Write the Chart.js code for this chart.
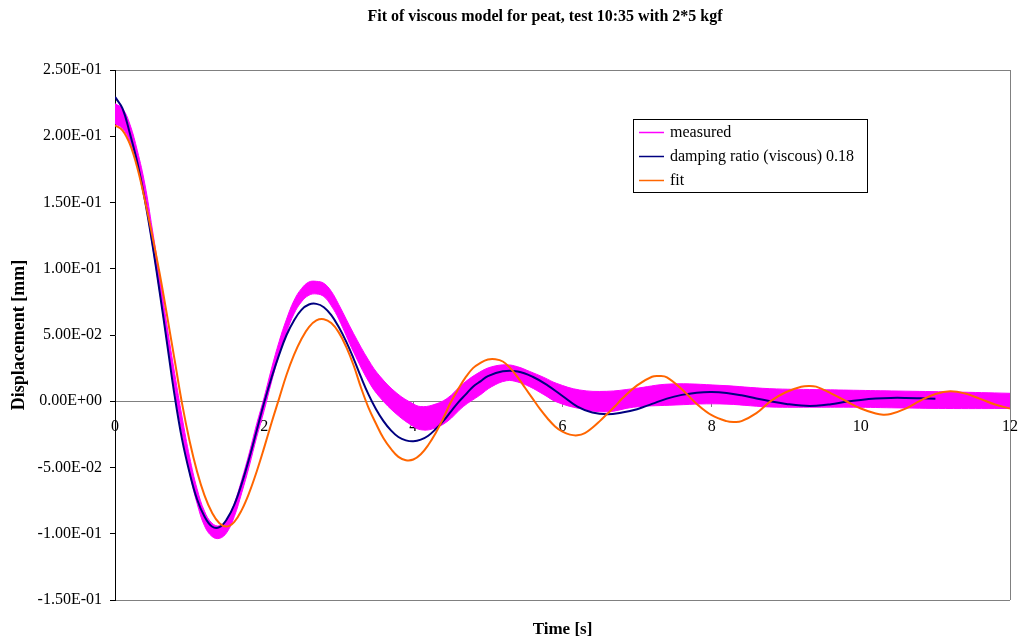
<!DOCTYPE html>
<html>
<head>
<meta charset="utf-8">
<title>Fit of viscous model for peat</title>
<script src="https://cdn.jsdelivr.net/npm/chart.js@4.4.1/dist/chart.umd.min.js"></script>
<style>
  html, body { margin: 0; padding: 0; background: #fff; }
  #chart { display: block; }
</style>
</head>
<body>
<canvas id="chart" width="1018" height="638"></canvas>
<script>
// measured signal is a noisy band: upper and lower edge [mm]
const measuredTime = [0, 0.1, 0.2, 0.3, 0.4, 0.5, 0.6, 0.7, 0.8, 0.9,
    1.0, 1.1, 1.2, 1.3, 1.4, 1.5, 1.6, 1.7, 1.8, 1.9,
    2.0, 2.1, 2.2, 2.3, 2.4, 2.5, 2.6, 2.7, 2.8, 2.9,
    3.0, 3.2, 3.4, 3.55, 3.78, 4.0, 4.1, 4.25, 4.45, 4.67, 4.89, 5.05, 5.25, 5.4, 5.56, 5.75, 5.92,
    6.23, 6.59, 6.95, 7.44, 8.11, 8.78, 9.4, 9.9, 10.5, 11.24, 12];
const measuredUpper = [0.2245, 0.221, 0.209, 0.189, 0.164, 0.130, 0.094, 0.056, 0.021, -0.012,
    -0.042, -0.066, -0.083, -0.092, -0.094, -0.089, -0.077, -0.059, -0.039, -0.017,
    0.003, 0.025, 0.045, 0.062, 0.076, 0.085, 0.090, 0.0905, 0.089, 0.083,
    0.073, 0.051, 0.031, 0.019, 0.006, -0.002, -0.004, -0.003, 0.002, 0.0134, 0.022, 0.026, 0.0275, 0.026, 0.0225, 0.018, 0.0135,
    0.0085, 0.0075, 0.0095, 0.013, 0.012, 0.0095, 0.0088, 0.0083, 0.0077, 0.007, 0.006];
const measuredLower = [0.2095, 0.206, 0.196, 0.177, 0.152, 0.118, 0.082, 0.044, 0.009, -0.024,
    -0.054, -0.077, -0.094, -0.102, -0.1035, -0.099, -0.087, -0.069, -0.049, -0.027,
    -0.007, 0.015, 0.035, 0.052, 0.066, 0.075, 0.080, 0.081, 0.079, 0.072,
    0.062, 0.037, 0.015, 0.003, -0.010, -0.019, -0.0215, -0.021, -0.0155, -0.004, 0.0045, 0.011, 0.0155, 0.0145, 0.011, 0.005, -0.0005,
    -0.0055, -0.008, -0.0045, -0.003, -0.002, -0.0043, -0.0045, -0.0045, -0.005, -0.0055, -0.0055];

// viscous model, damping ratio 0.18
const viscousTime = [0, 0.1, 0.2, 0.3, 0.4, 0.5, 0.6, 0.7, 0.8, 0.9,
    1.0, 1.1, 1.2, 1.3, 1.4, 1.5, 1.6, 1.7, 1.8, 1.9,
    2.0, 2.1, 2.2, 2.3, 2.4, 2.5, 2.6, 2.7, 2.8, 2.9,
    3.0, 3.1, 3.2, 3.3, 3.4, 3.5, 3.6, 3.7, 3.8, 3.9,
    4.0, 4.1, 4.2, 4.3, 4.4, 4.5, 4.6, 4.7, 4.8, 4.9,
    5.0, 5.2, 5.4, 5.6, 5.8, 6.0, 6.2, 6.4, 6.6, 6.8, 7.0, 7.2, 7.4, 7.6, 7.8, 8.0,
    8.2, 8.4, 8.6, 8.8, 9.0, 9.2, 9.4, 9.6, 9.8, 10.0, 10.2, 10.4, 10.6, 10.8, 11.0];
const viscousDisp = [0.2297, 0.221, 0.202, 0.180, 0.152, 0.119, 0.082, 0.043, 0.004, -0.029,
    -0.054, -0.074, -0.087, -0.0945, -0.095, -0.089, -0.078, -0.062, -0.043, -0.022,
    -0.001, 0.018, 0.035, 0.050, 0.061, 0.069, 0.073, 0.0735, 0.071, 0.065,
    0.056, 0.045, 0.032, 0.018, 0.005, -0.006, -0.015, -0.022, -0.027, -0.0295,
    -0.0302, -0.029, -0.026, -0.021, -0.015, -0.008, -0.001, 0.005, 0.011, 0.015,
    0.019, 0.0226, 0.0225, 0.0185, 0.012, 0.004, -0.004, -0.0085, -0.0098, -0.0085, -0.006, -0.002, 0.002, 0.0048, 0.0065, 0.0070,
    0.0063, 0.0045, 0.002, -0.0002, -0.002, -0.0033, -0.0034, -0.0022, -0.0004, 0.001, 0.002, 0.0025, 0.0025, 0.0022, 0.0018];

// fitted curve
const fitTime = [0, 0.1, 0.2, 0.3, 0.4, 0.5, 0.6, 0.7, 0.8, 0.9,
    1.0, 1.1, 1.2, 1.3, 1.4, 1.5, 1.6, 1.7, 1.8, 1.9,
    2.0, 2.1, 2.2, 2.3, 2.4, 2.5, 2.6, 2.7, 2.8, 2.9,
    3.0, 3.1, 3.2, 3.3, 3.4, 3.5, 3.6, 3.7, 3.8, 3.9,
    4.0, 4.1, 4.2, 4.3, 4.4, 4.5, 4.6, 4.7, 4.8, 4.9,
    5.0, 5.1, 5.2, 5.3, 5.4, 5.5, 5.6, 5.7, 5.8, 5.9,
    6.0, 6.1, 6.2, 6.3, 6.4, 6.5, 6.6, 6.7, 6.8, 7.0, 7.2, 7.3, 7.4, 7.6, 7.8,
    8.0, 8.2, 8.3, 8.4, 8.6, 8.8, 9.0, 9.2, 9.3, 9.4, 9.6, 9.8,
    10.0, 10.2, 10.3, 10.4, 10.6, 10.8, 11.0, 11.2, 11.4, 11.6, 11.8, 12.0];
const fitDisp = [0.2083, 0.2045, 0.194, 0.176, 0.152, 0.125, 0.096, 0.064, 0.031, -0.002,
    -0.030, -0.053, -0.071, -0.084, -0.092, -0.0945, -0.091, -0.082, -0.069, -0.053,
    -0.035, -0.016, 0.002, 0.020, 0.035, 0.047, 0.056, 0.061, 0.0619, 0.059,
    0.052, 0.041, 0.027, 0.010, -0.005, -0.017, -0.028, -0.036, -0.042, -0.0445,
    -0.044, -0.040, -0.033, -0.024, -0.013, -0.001, 0.009, 0.018, 0.025, 0.029,
    0.0315, 0.0317, 0.030, 0.025, 0.018, 0.010, 0.002, -0.006, -0.013, -0.019,
    -0.023, -0.0252, -0.0257, -0.024, -0.020, -0.015, -0.0095, -0.004, 0.002, 0.012, 0.0185, 0.019, 0.018, 0.009, -0.002,
    -0.0105, -0.015, -0.0156, -0.015, -0.009, 0.0005, 0.007, 0.011, 0.0116, 0.011, 0.006, 0.0002,
    -0.0055, -0.0093, -0.0101, -0.0096, -0.0055, 0.0005, 0.0055, 0.0075, 0.0058, 0.0018, -0.0025, -0.0055];

const xTickValues = [0, 2, 4, 6, 8, 10, 12];
const yTickValues = [-0.15, -0.10, -0.05, 0, 0.05, 0.10, 0.15, 0.20, 0.25];
const yTickLabels = ['-1.50E-01', '-1.00E-01', '-5.00E-02', '0.00E+00', '5.00E-02', '1.00E-01', '1.50E-01', '2.00E-01', '2.50E-01'];

const SERIF = "'Liberation Serif', 'Times New Roman', serif";
const toPoints = (xs, ys) => xs.map((x, i) => ({ x: x, y: ys[i] }));

// chart title, drawn where the original has it
const titlePlugin = {
    id: 'titleText',
    afterDraw(chart, args, opts) {
        const ctx = chart.ctx;
        ctx.save();
        ctx.font = `bold 16px ${SERIF}`;
        ctx.fillStyle = '#000';
        ctx.textAlign = 'center';
        ctx.textBaseline = 'middle';
        ctx.fillText(opts.text, opts.x, opts.y);
        ctx.restore();
    }
};

// boxed legend inside the plot, like the spreadsheet one
const legendBox = {
    id: 'legendBox',
    afterDraw(chart, args, opts) {
        const ctx = chart.ctx;
        const items = chart.data.datasets.filter(d => !d.hideInLegend);
        ctx.save();
        ctx.fillStyle = '#fff';
        ctx.fillRect(opts.x, opts.y, opts.width, opts.height);
        ctx.strokeStyle = '#000';
        ctx.lineWidth = 1;
        ctx.strokeRect(opts.x + 0.5, opts.y + 0.5, opts.width, opts.height);
        ctx.font = `16px ${SERIF}`;
        ctx.textBaseline = 'middle';
        items.forEach((d, i) => {
            const y = Math.round(opts.y + 13 + i * 24.2) + 0.5;
            ctx.strokeStyle = d.borderColor;
            ctx.lineWidth = 1.5;
            ctx.beginPath();
            ctx.moveTo(opts.x + 6, y);
            ctx.lineTo(opts.x + 31, y);
            ctx.stroke();
            ctx.fillStyle = '#000';
            ctx.fillText(d.label, opts.x + 37, y);
        });
        ctx.restore();
    }
};

const lastY = yTickValues.length - 1;
const lastX = xTickValues.length - 1;

new Chart(document.getElementById('chart'), {
    type: 'line',
    data: {
        datasets: [{
            label: 'measured',
            data: toPoints(measuredTime, measuredUpper),
            borderColor: '#FF00FF',
            backgroundColor: '#FF00FF',
            borderWidth: 1,
            fill: '+1',
            order: 3
        }, {
            label: 'measured lower edge',
            hideInLegend: true,
            data: toPoints(measuredTime, measuredLower),
            borderColor: '#FF00FF',
            backgroundColor: '#FF00FF',
            borderWidth: 1,
            fill: false,
            order: 3
        }, {
            label: 'damping ratio (viscous) 0.18',
            data: toPoints(viscousTime, viscousDisp),
            borderColor: '#000080',
            borderWidth: 2,
            fill: false,
            order: 2
        }, {
            label: 'fit',
            data: toPoints(fitTime, fitDisp),
            borderColor: '#FF6600',
            borderWidth: 2,
            fill: false,
            order: 1
        }]
    },
    options: {
        responsive: false,
        animation: false,
        devicePixelRatio: 1,
        layout: { padding: { top: 70, right: 8, left: 0, bottom: 0 } },
        elements: {
            point: { radius: 0, hoverRadius: 0 },
            line: { tension: 0.4 }
        },
        plugins: {
            legend: { display: false },
            tooltip: { enabled: false },
            titleText: { text: 'Fit of viscous model for peat, test 10:35 with 2*5 kgf', x: 545, y: 17 },
            legendBox: { x: 633, y: 119, width: 234, height: 73 }
        },
        scales: {
            x: {
                type: 'linear',
                position: { y: 0 },
                min: 0,
                max: 12,
                afterBuildTicks: (scale) => { scale.ticks = xTickValues.map(v => ({ value: v })); },
                afterFit: (scale) => { scale.paddingLeft = 0; scale.paddingRight = 0; },
                ticks: {
                    color: '#000',
                    padding: 11,
                    maxRotation: 0,
                    font: { family: SERIF, size: 16 },
                    callback: (value) => String(value)
                },
                grid: {
                    color: (c) => c.index === lastX ? '#808080' : 'rgba(0,0,0,0)',
                    tickColor: '#808080',
                    tickLength: 5
                },
                border: { color: '#808080', width: 1 }
            },
            x2: {
                type: 'linear',
                axis: 'x',
                position: 'bottom',
                min: 0,
                max: 12,
                ticks: { display: false },
                grid: { display: false, drawTicks: false },
                border: { display: false },
                title: {
                    display: true,
                    text: 'Time [s]',
                    color: '#000',
                    font: { family: SERIF, size: 17, weight: 'bold', lineHeight: 1 },
                    padding: { top: 0, bottom: 0 }
                },
                afterFit: (scale) => { scale.height = 38; scale.paddingLeft = 0; scale.paddingRight = 0; }
            },
            y: {
                type: 'linear',
                position: 'left',
                min: -0.15,
                max: 0.25,
                afterBuildTicks: (scale) => { scale.ticks = yTickValues.map(v => ({ value: v })); },
                afterFit: (scale) => { scale.width = 115; },
                ticks: {
                    color: '#000',
                    padding: 8,
                    font: { family: SERIF, size: 16 },
                    callback: (value, index) => yTickLabels[index]
                },
                grid: {
                    color: (c) => (c.index === 0 || c.index === lastY) ? '#808080' : 'rgba(0,0,0,0)',
                    tickColor: '#000',
                    tickLength: 5
                },
                border: { color: '#000', width: 1 },
                title: {
                    display: true,
                    text: 'Displacement [mm]',
                    color: '#000',
                    font: { family: SERIF, size: 18, weight: 'bold' },
                    padding: { top: 9, bottom: 0 }
                }
            }
        }
    },
    plugins: [titlePlugin, legendBox]
});
</script>
</body>
</html>
